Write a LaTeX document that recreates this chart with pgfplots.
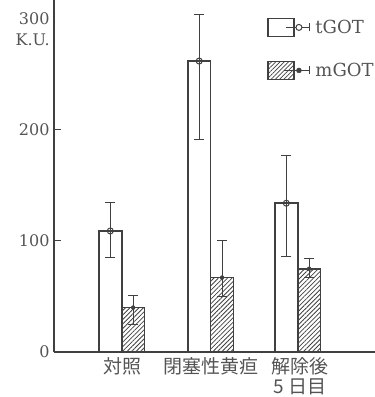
\documentclass[border=0pt]{standalone}
\usepackage{fontspec}
\setmainfont{DejaVu Serif}
\newfontfamily\cjk{Noto Sans CJK JP}
\usepackage{pgfplots}
\pgfplotsset{compat=1.18}
\usetikzlibrary{patterns.meta}
\definecolor{ink}{gray}{0.25}
\definecolor{txt}{gray}{0.33}
\begin{document}
\begin{tikzpicture}
\begin{axis}[
  name=ax,
  at={(0,0)}, anchor=south west,
  scale only axis, width=321pt, height=352pt,
  xmin=0, xmax=3.648, ymin=0, ymax=317,
  axis x line=bottom, axis y line=left,
  axis line style={-, ink, line width=1.6pt},
  ytick={0,100,200},
  extra y ticks={300},
  extra y tick style={major tick length=0pt},
  tick align=inside, major tick length=7pt,
  major tick style={ink, line width=1pt},
  xtick={0.78,1.78,2.80},
  xticklabels={対照,閉塞性黄疸,{解除後\\5 日目}},
  major x tick style={draw=none},
  xticklabel style={font=\cjk\fontsize{19}{20}\selectfont, txt, align=center, yshift=-2pt},
  yticklabel style={font=\fontsize{16}{18}\selectfont, txt, xshift=-1pt},
  /pgf/number format/assume math mode=true,
  clip=false,
  legend style={at={(rel axis cs:0.664,0.95)}, anchor=north west, draw=none, fill=none,
    inner sep=0pt, row sep=24pt, column sep=3pt,
    font=\fontsize{18}{20}\selectfont, text=txt},
  legend cell align=left,
]
% tGOT bars
\addplot[ybar, forget plot, bar width=0.26, fill=white, draw=ink, line width=1.6pt,
  error bars/.cd, y dir=both, y explicit,
  error bar style={ink, line width=1pt},
  error mark options={rotate=90, mark size=5pt, ink, line width=1pt}]
  coordinates {
  (0.64,109) += (0,26) -= (0,24)
  (1.65,262) += (0,42) -= (0,71)
  (2.64,134) += (0,43) -= (0,48)
  };
\addplot[only marks, mark=o, mark size=3pt, ink, fill=white, line width=1pt, forget plot]
  coordinates {(0.64,109) (1.65,262) (2.64,134)};
% mGOT bars
\addplot[ybar, forget plot, bar width=0.26, pattern={Lines[angle=45, distance=3.2pt, line width=0.8pt]},
  pattern color=ink, draw=ink, line width=1.6pt,
  error bars/.cd, y dir=both, y explicit,
  error bar style={ink, line width=1pt},
  error mark options={rotate=90, mark size=5pt, ink, line width=1pt}]
  coordinates {
  (0.90,40) += (0,11) -= (0,15)
  (1.91,67) += (0,33) -= (0,17)
  (2.90,75) += (0,9) -= (0,8)
  };
\addplot[only marks, mark=*, mark size=2pt, ink, forget plot]
  coordinates {(0.90,40) (1.91,67) (2.90,75)};
\node[anchor=east, font=\fontsize{16}{18}\selectfont, text=txt, inner sep=0pt] at (axis cs:0,281) [xshift=-4pt] {K.U.};
\addlegendimage{legend image code/.code={
  \draw[line width=1.2pt, draw=ink, fill=white] (0pt,-9pt) rectangle (26pt,9pt);
  \draw[ink, line width=1pt] (18pt,0pt) -- (42pt,0pt);
  \draw[ink, line width=1pt] (42pt,-4pt) -- (42pt,4pt);
  \draw[ink, line width=1pt, fill=white] (31pt,0pt) circle (3pt);
}}
\addlegendentry{tGOT}
\addlegendimage{legend image code/.code={
  \draw[line width=1.2pt, draw=ink, pattern={Lines[angle=45, distance=3pt, line width=0.7pt]}, pattern color=ink] (0pt,-9pt) rectangle (26pt,9pt);
  \draw[ink, line width=1pt] (16pt,0pt) -- (42pt,0pt);
  \draw[ink, line width=1pt] (42pt,-4pt) -- (42pt,4pt);
  \fill[ink] (31pt,0pt) circle (2.5pt);
}}
\addlegendentry{mGOT}
\end{axis}
\pgfresetboundingbox
\path[use as bounding box] (ax.south west) ++(-54pt,-45pt) rectangle (ax.north east);
\end{tikzpicture}
\end{document}
